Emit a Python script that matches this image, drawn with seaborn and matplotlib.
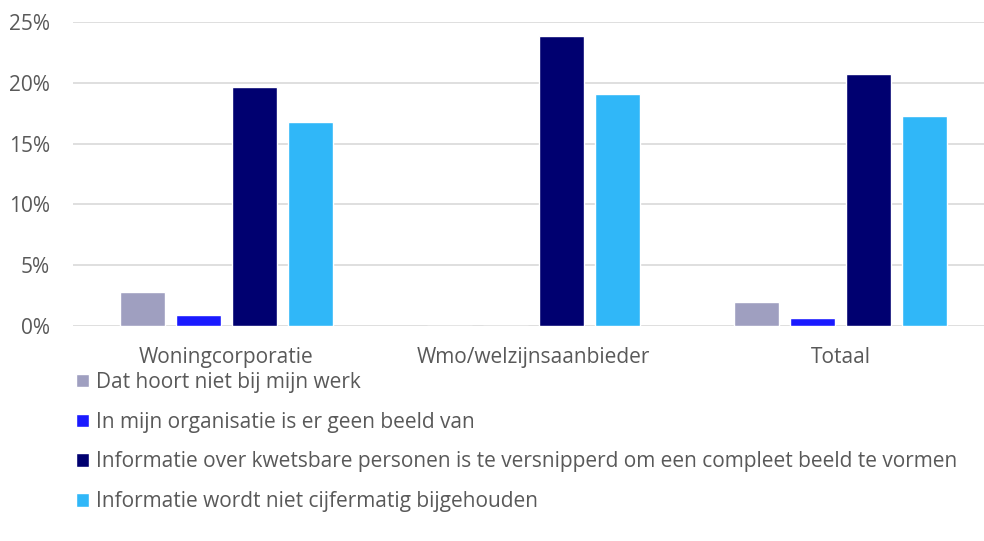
import pandas as pd
import numpy as np
import matplotlib.pyplot as plt
import seaborn as sns
from matplotlib.ticker import PercentFormatter

# Data
categories = ['Woningcorporatie', 'Wmo/welzijnsaanbieder', 'Totaal']
series = [
    'Dat hoort niet bij mijn werk',
    'In mijn organisatie is er geen beeld van',
    'Informatie over kwetsbare personen is te versnipperd om een compleet beeld te vormen',
    'Informatie wordt niet cijfermatig bijgehouden',
]
niet_werk = [2.8, 0.0, 2.0]
geen_beeld = [0.9, 0.0, 0.65]
versnipperd = [19.65, 23.85, 20.7]
niet_cijfermatig = [16.8, 19.05, 17.3]
colors = ['#9F9FC0', '#1A1AFF', '#000070', '#30B7F8']

values = [niet_werk, geen_beeld, versnipperd, niet_cijfermatig]
rows = []
for name, vals in zip(series, values):
    for cat, v in zip(categories, vals):
        rows.append({'categorie': cat, 'reden': name, 'waarde': v})
df = pd.DataFrame(rows)

sns.set_style('white')
plt.rcParams['font.family'] = ['Open Sans', 'DejaVu Sans']
text_color = '#595959'

fig = plt.figure(figsize=(9.84, 5.41), dpi=100)
W, H = 984, 541
ax = fig.add_axes([73 / W, 1 - 326 / H, (994 - 73) / W, (326 - 22) / H])

sns.barplot(data=df, x='categorie', y='waarde', hue='reden',
            order=categories, hue_order=series, palette=colors,
            width=0.73, gap=0.2, saturation=1, ax=ax, legend=True)

ax.set_ylim(0, 25)
ax.set_xlim(-0.5, 2.5)
ax.set_yticks(np.arange(0, 26, 5))
ax.yaxis.set_major_formatter(PercentFormatter(decimals=0))
ax.grid(axis='y', color='#D9D9D9', linewidth=1.2)
ax.set_axisbelow(True)
for side in ['top', 'right', 'left', 'bottom']:
    ax.spines[side].set_visible(False)
ax.tick_params(axis='both', length=0, labelsize=15, colors=text_color)
ax.tick_params(axis='y', pad=16.5)
ax.tick_params(axis='x', pad=15)
ax.set_xlabel('')
ax.set_ylabel('')

handles, labels = ax.get_legend_handles_labels()
ax.get_legend().remove()
fig.legend(handles, labels, loc='upper left', bbox_to_anchor=(76 / W, 1 - 372 / H),
           frameon=False, fontsize=15, labelcolor=text_color,
           handlelength=0.62, handleheight=0.62, handletextpad=0.34,
           labelspacing=0.9, borderaxespad=0, borderpad=0)

fig.savefig('out.png', dpi=100)
